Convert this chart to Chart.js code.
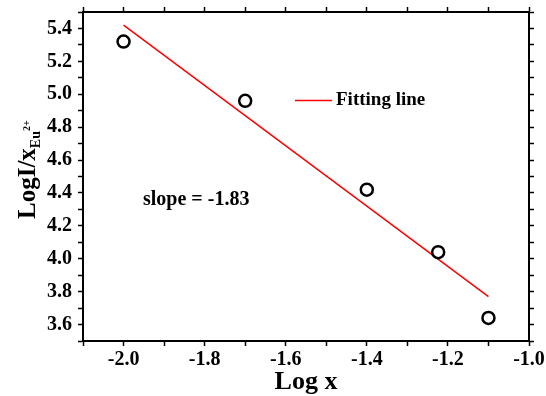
<!DOCTYPE html>
<html>
<head>
<meta charset="utf-8">
<script src="https://cdn.jsdelivr.net/npm/chart.js@4/dist/chart.umd.min.js"></script>
<style>
	html, body { margin: 0; padding: 0; background: #fff; }
	canvas { display: block; }
</style>
</head>
<body>
<canvas id="chart" width="546" height="396"></canvas>
<script>
// measured points (Log x, LogI/x)
const logX = [-2.0, -1.7, -1.4, -1.224, -1.1];
const logI = [5.32, 4.96, 4.42, 4.04, 3.64];

// fitted line end points
const fitX = [-2.0, -1.1];
const fitY = [5.42, 3.77];

const xRange = [-2.1, -1.0];
const yRange = [3.5, 5.5];
const fitLabel = "Fitting line";
const slopeText = "slope = -1.83";

const SERIF = "'Liberation Serif', 'Times New Roman', serif";

// labels only every 0.2, ticks every 0.1
function majorLabel(value) {
	const n = Math.round(value * 10);
	return n % 2 === 0 ? value.toFixed(1) : "";
}

function axisBase(position, size, showLabels) {
	return {
		type: "linear",
		position,
		border: { display: true, color: "#000", width: 2 },
		grid: { drawOnChartArea: false, drawTicks: true, tickLength: 5, tickWidth: 1.5, tickColor: "#000" },
		ticks: {
			stepSize: 0.1,
			autoSkip: false,
			maxRotation: 0,
			color: "#000",
			padding: position === "left" ? 6 : 2,
			font: { family: SERIF, size: 20, weight: "bold" },
			callback: showLabels ? majorLabel : () => "",
		},
		afterFit: (scale) => {
			if (position === "left" || position === "right") scale.width = size;
			else scale.height = size;
			// keep label overhang from pushing the plot area
			scale.paddingTop = 0;
			scale.paddingBottom = 0;
			scale.paddingLeft = 0;
			scale.paddingRight = 0;
		},
	};
}

// y-axis title with subscript/superscript and text annotations
const annotations = {
	id: "annotations",
	afterDraw(chart) {
		const ctx = chart.ctx;
		ctx.save();
		ctx.fillStyle = "#000";
		ctx.textBaseline = "alphabetic";

		// y title: LogI/x_Eu^2+
		ctx.translate(35, 219);
		ctx.rotate(-Math.PI / 2);
		ctx.font = `bold 25px ${SERIF}`;
		ctx.fillText("LogI/x", 0, 0);
		let w = ctx.measureText("LogI/x").width;
		ctx.font = `bold 14px ${SERIF}`;
		ctx.fillText("Eu", w, 5);
		w += ctx.measureText("Eu").width;
		ctx.font = `bold 10px ${SERIF}`;
		ctx.fillText("2+", w, -5);
		ctx.restore();

		ctx.save();
		ctx.fillStyle = "#000";
		// legend
		ctx.strokeStyle = "#ff0000";
		ctx.lineWidth = 1.5;
		ctx.beginPath();
		ctx.moveTo(295, 100.5);
		ctx.lineTo(332, 100.5);
		ctx.stroke();
		ctx.font = `bold 19px ${SERIF}`;
		ctx.textBaseline = "middle";
		ctx.fillText(fitLabel, 336, 100);

		// slope note
		ctx.font = `bold 20px ${SERIF}`;
		ctx.fillText(slopeText, 143, 200);
		ctx.restore();
	},
};

const scatterData = logX.map((x, i) => ({ x, y: logI[i] }));
const fitData = fitX.map((x, i) => ({ x, y: fitY[i] }));

new Chart(document.getElementById("chart"), {
	type: "scatter",
	data: {
		datasets: [
			{
				label: "data",
				data: scatterData,
				pointStyle: "circle",
				pointRadius: 6,
				borderColor: "#000",
				borderWidth: 2.5,
				backgroundColor: "rgba(0,0,0,0)",
				order: 1,
			},
			{
				label: fitLabel,
				data: fitData,
				showLine: true,
				borderColor: "#ff0000",
				borderWidth: 1.5,
				pointRadius: 0,
				order: 2,
			},
		],
	},
	options: {
		responsive: false,
		animation: false,
		devicePixelRatio: 1,
		layout: { padding: 0 },
		plugins: { legend: { display: false }, tooltip: { enabled: false } },
		scales: {
			x: {
				...axisBase("bottom", 55, true),
				min: xRange[0],
				max: xRange[1],
				title: {
					display: true,
					text: "Log x",
					color: "#000",
					padding: { top: 0, bottom: 0 },
					font: { family: SERIF, size: 26, weight: "bold", lineHeight: 1.05 },
				},
			},
			x2: { ...axisBase("top", 12, false), min: xRange[0], max: xRange[1] },
			y: { ...axisBase("left", 83, true), min: yRange[0], max: yRange[1] },
			y2: { ...axisBase("right", 17, false), min: yRange[0], max: yRange[1] },
		},
	},
	plugins: [annotations],
});
</script>
</body>
</html>
